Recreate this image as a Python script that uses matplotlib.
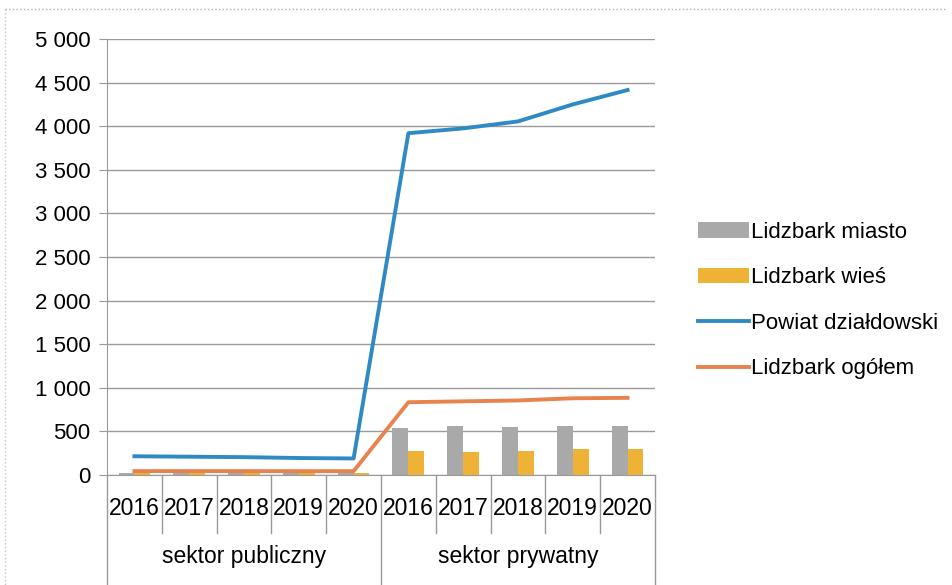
import numpy as np
import matplotlib.pyplot as plt
import matplotlib.transforms as mtransforms

plt.rcParams['font.family'] = ['Liberation Sans', 'DejaVu Sans']

years = ['2016', '2017', '2018', '2019', '2020']
groups = ['sektor publiczny', 'sektor prywatny']
labels = years + years

miasto = [20, 18, 18, 18, 18, 540, 560, 550, 562, 562]
wies = [22, 22, 22, 22, 22, 275, 265, 275, 298, 298]
powiat = [215, 210, 205, 195, 190, 3920, 3975, 4055, 4250, 4415]
ogolem = [45, 45, 45, 44, 44, 835, 845, 855, 880, 885]

fig = plt.figure(figsize=(9.52, 5.85), dpi=100)
ax = fig.add_axes([0.1124, 0.188, 0.5756, 0.7453])

x = np.arange(len(labels))
w = 0.29
b1 = ax.bar(x - w / 2, miasto, w, color='#a9a9a9', label='Lidzbark miasto', zorder=2)
b2 = ax.bar(x + w / 2, wies, w, color='#eeb236', label='Lidzbark wieś', zorder=2)
l1, = ax.plot(x, powiat, color='#2f8ac4', lw=2.8, label='Powiat działdowski', zorder=3)
l2, = ax.plot(x, ogolem, color='#e8834e', lw=2.8, label='Lidzbark ogółem', zorder=3)

ax.set_xlim(-0.5, len(labels) - 0.5)
ax.set_ylim(0, 5000)
ax.set_yticks(range(0, 5001, 500))
ax.set_yticklabels([f'{v:,}'.replace(',', ' ') for v in range(0, 5001, 500)], fontsize=16)
ax.yaxis.grid(True, color='#9a9a9a', lw=1)
ax.set_axisbelow(True)
ax.tick_params(axis='y', length=6, color='#9a9a9a', pad=6)
ax.set_xticks([])
for s in ['top', 'right']:
    ax.spines[s].set_visible(False)
ax.spines['left'].set_color('#9a9a9a')
ax.spines['bottom'].set_color('#9a9a9a')

# two-level category axis
tr = mtransforms.blended_transform_factory(ax.transData, ax.transAxes)
for i, lab in enumerate(labels):
    ax.text(i, -0.076, lab, transform=tr, ha='center', va='center', fontsize=16.5)
for b in np.arange(-0.5, len(labels), 1.0):
    bottom = -0.25 if b in (-0.5, 4.5, 9.5) else -0.133
    ax.plot([b, b], [0, bottom], transform=tr, color='#9a9a9a', lw=1, clip_on=False)
for gi, g in enumerate(groups):
    ax.text(2 + 5 * gi, -0.188, g, transform=tr, ha='center', va='center', fontsize=16.5)

ax.legend([b1, b2, l1, l2], [b1.get_label(), b2.get_label(), l1.get_label(), l2.get_label()],
          loc='center left', bbox_to_anchor=(1.042, 0.40), frameon=False, fontsize=16,
          handlelength=2.3, handleheight=0.7, labelspacing=1.1, handletextpad=0.1)

# scanned frame
fig.add_artist(plt.Line2D([0.005, 0.995], [0.985, 0.985], color='#b0b0b0', lw=1, ls=':'))
fig.add_artist(plt.Line2D([0.005, 0.005], [0.985, 0.0], color='#c8c8c8', lw=1, ls=':'))

fig.savefig('out.png', dpi=100)
